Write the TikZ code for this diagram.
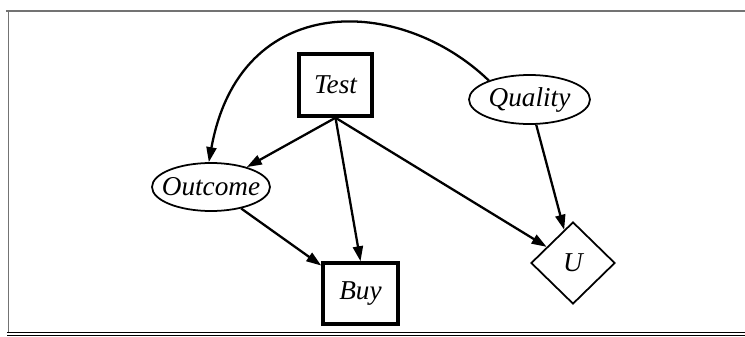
\documentclass[tikz,border=0pt]{standalone}
\usepackage{fontspec}
\setmainfont{Liberation Serif}
\usetikzlibrary{arrows.meta,shapes.geometric}

\begin{document}
\begin{tikzpicture}[
		chance/.style={ellipse, draw, line width=1pt, inner xsep=-0.15cm, inner ysep=0pt},
		decision/.style={rectangle, draw, line width=2pt, inner sep=0pt},
		utility/.style={diamond, draw, line width=1pt, inner sep=0pt},
		link/.style={line width=1.3pt, -{Triangle[length=0.3cm,width=0.2cm]}},
		every node/.style={font=\itshape\fontsize{15.5}{18}\selectfont}]
		%%%%% FRAME %%%%%
		
		\useasboundingbox (0, 0) rectangle (14.9, 6.72);
		\draw[line width=0.04cm, color=black!55] (0.12, 6.5) -- (14.9, 6.5);
		\draw[line width=0.04cm, color=black!55] (0.17, 6.5) -- (0.17, 0.06);
		\draw[line width=0.03cm] (0.14, 0.07) -- (14.9, 0.07);
		\draw[line width=0.03cm] (0.14, 0.015) -- (14.9, 0.015);
		
		%%%%% NODES %%%%%
		
		\node[decision, minimum width=1.46cm, minimum height=1.24cm] (test) at (6.71, 5.02) {Test};
		\node[chance, minimum width=2.42cm, minimum height=0.98cm] (quality) at (10.59, 4.73) {Quality};
		\node[chance, minimum width=2.36cm, minimum height=0.96cm] (outcome) at (4.22, 2.98) {Outcome};
		\node[decision, minimum width=1.5cm, minimum height=1.22cm] (buy) at (7.21, 0.85) {Buy};
		\node[utility, minimum width=1.68cm, minimum height=1.64cm] (u) at (11.46, 1.46) {U};
		
		%%%%% LINKS %%%%%
		
		\draw[link] (quality.155) .. controls (8.0, 6.82) and (4.8, 6.92) .. (outcome.95);
		\draw[link] (test.south) -- (outcome);
		\draw[link] (test.south) -- (buy.north);
		\draw[link] (test.south) -- (u);
		\draw[link] (quality) -- (u);
		\draw[link] (outcome) -- (buy);
		
	\end{tikzpicture}
\end{document}
